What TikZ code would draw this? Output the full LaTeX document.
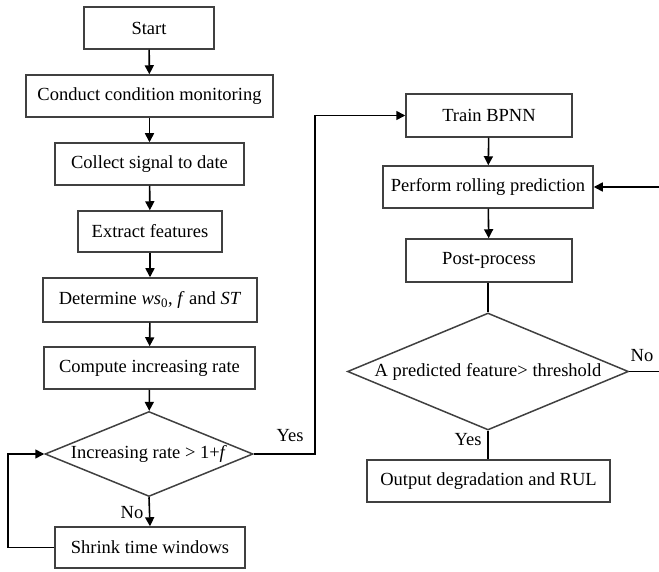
\documentclass[tikz,border=0pt]{standalone}
\usepackage{fontspec}
\setmainfont{Liberation Serif}
\usetikzlibrary{positioning,shapes.geometric,arrows.meta}

\begin{document}
\begin{tikzpicture}[x=1pt,y=-1pt,
		box/.style={draw=black!75,line width=1.5pt,rectangle,inner sep=0pt,font=\fontsize{18.5}{22}\selectfont},
		decision/.style={draw=black!75,line width=1.5pt,diamond,inner sep=0pt},
		lbl/.style={font=\fontsize{18.5}{22}\selectfont},
		arr/.style={line width=1.6pt,-{Triangle[length=9pt,width=9pt]}},
		ln/.style={line width=1.6pt}]
		\clip (0,0) rectangle (659,572);
		% left column
		\node[box,minimum width=130pt,minimum height=42pt] (start) at (149,28) {Start};
		\node[box,minimum width=247pt,minimum height=42pt] (conduct) at (149.5,96) {Conduct condition monitoring};
		\node[box,minimum width=189pt,minimum height=42pt] (collect) at (149.5,164) {Collect signal to date};
		\node[box,minimum width=144pt,minimum height=41pt] (extract) at (150,231.5) {Extract features};
		\node[box,minimum width=214pt,minimum height=44pt] (determine) at (150,300) {Determine \textit{ws}\textsubscript{0}, \textit{f} and \textit{ST}};
		\node[box,minimum width=211pt,minimum height=42pt] (compute) at (149.5,368) {Compute increasing rate};
		\node[decision,minimum width=208pt,minimum height=85pt,label={[lbl]center:Increasing rate > 1+\textit{f}}] (incr) at (149,454) {};
		\node[box,minimum width=190pt,minimum height=41pt] (shrink) at (150,547.5) {Shrink time windows};
		% right column
		\node[box,minimum width=166pt,minimum height=43pt] (train) at (489,115.5) {Train BPNN};
		\node[box,minimum width=210pt,minimum height=42pt] (rolling) at (488,187) {Perform rolling prediction};
		\node[box,minimum width=166pt,minimum height=43pt] (post) at (489,260.5) {Post-process};
		\node[decision,minimum width=281pt,minimum height=117pt,label={[lbl]center:A predicted feature> threshold}] (thresh) at (488,371.5) {};
		\node[box,minimum width=243pt,minimum height=42pt] (output) at (488.5,481) {Output degradation and RUL};
		% arrows
		\draw[arr] (start) -- (conduct);
		\draw[arr] (conduct) -- (collect);
		\draw[arr] (collect) -- (extract);
		\draw[arr] (extract) -- (determine);
		\draw[arr] (determine) -- (compute);
		\draw[arr] (compute) -- (incr);
		\draw[arr] (incr.south) -- (shrink.north);
		\node[lbl] (no1) at (132,513) {No};
		\draw[arr] (shrink.west) -- ++(-46,0) |- (incr.west);
		\draw[arr] (incr.east) -- ++(61,0) |- (train.west);
		\node[lbl] (yes1) at (290,436) {Yes};
		\draw[arr] (train) -- (rolling);
		\draw[arr] (rolling) -- (post);
		\draw[ln] (post.south -| thresh.north) -- (thresh.north);
		\draw[ln] (thresh.south) -- (output.north -| thresh.south);
		\node[lbl] (yes2) at (468,440) {Yes};
		\draw[arr] (thresh.east) -- ++(40,0) |- (rolling.east);
		\node[lbl] (no2) at (642,356) {No};
\end{tikzpicture}
\end{document}
